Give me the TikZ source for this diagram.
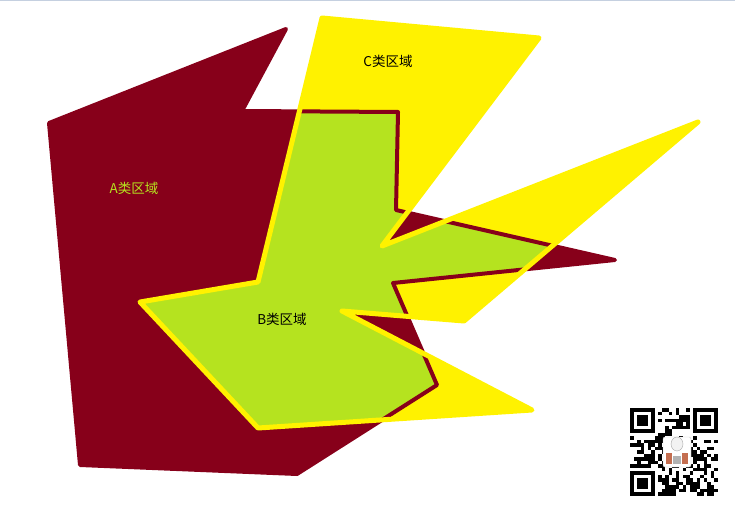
\documentclass[tikz,border=0pt]{standalone}
\usepackage{fontspec}
\newfontfamily\cjkfont{Noto Sans CJK SC}
\usetikzlibrary{positioning}
\definecolor{regionA}{RGB}{135,0,26}
\definecolor{regionB}{RGB}{181,227,31}
\definecolor{regionC}{RGB}{255,242,0}
\definecolor{frameline}{RGB}{197,208,224}
\definecolor{logobrown}{RGB}{196,110,80}
\tikzset{
	areafill/.style={fill=#1, draw=none},
	areaedge/.style={draw=#1, line join=round, line cap=round},
	arealabel/.style={font=\cjkfont\fontsize{13.5}{15}\selectfont, inner sep=0pt},
	qrmod/.style={fill=black}
}
\def\polyA{(49,123) -- (286,29) -- (242,111) -- (398,112) -- (396,210) -- (615,260) -- (393,283) -- (437,385) -- (297,474) -- (80,465) -- cycle}
\def\polyC{(322,18) -- (539,38) -- (382,246) -- (698,122) -- (464,321) -- (342,311) -- (532,410) -- (258,428) -- (140,302) -- (258,282) -- cycle}
\begin{document}
\begin{tikzpicture}[x=1pt, y=-1pt]
	\useasboundingbox (0,0) rectangle (735,513);
	
	%--------------------
	% Frame
	%--------------------
	\draw[frameline, line width=1.5pt] (0,0.75) -- (735,0.75);
	
	%--------------------
	% Areas
	%--------------------
	\fill[regionA] \polyA;
	\fill[regionC] \polyC;
	\begin{scope}
		\clip \polyA;
		\fill[regionB] \polyC;
	\end{scope}
	\draw[areaedge=regionA, line width=4pt] \polyA;
	\draw[areaedge=regionC, line width=5pt] \polyC;
	
	%--------------------
	% Labels
	%--------------------
	\node[arealabel, text=regionB] (labelA) at (134,188) {A类区域};
	\node[arealabel] (labelB) at (282,319) {B类区域};
	\node[arealabel] (labelC) at (388,61) {C类区域};
	
	%--------------------
	% QR code
	%--------------------
	\begin{scope}[shift={(630,408)}]
		\pgfmathsetseed{7}
		\foreach \i in {0,...,24}{
			\foreach \j in {0,...,24}{
				\pgfmathrandominteger{\bit}{0}{1}
				\pgfmathtruncatemacro\qrskip{(\i<8 && \j<8) || (\i>16 && \j<8) || (\i<8 && \j>16)}
				\ifnum\qrskip=0
					\ifnum\bit=1
						\fill[qrmod] (\i*3.52,\j*3.52) rectangle ++(3.52,3.52);
					\fi
				\fi
			}
		}
		\foreach \fx/\fy in {0/0, 63.36/0, 0/63.36}{
			\fill[qrmod] (\fx,\fy) rectangle ++(24.64,24.64);
			\fill[white] (\fx+3.52,\fy+3.52) rectangle ++(17.6,17.6);
			\fill[qrmod] (\fx+7.04,\fy+7.04) rectangle ++(10.56,10.56);
		}
		% logo in the middle
		\draw[gray!40, fill=white, rounded corners=2pt] (33,29) rectangle (61,59);
		\fill[logobrown] (36,45) rectangle (42,56);
		\fill[logobrown] (52,45) rectangle (58,56);
		\draw[gray!70, fill=gray!10] (47,36) ellipse (6 and 7);
		\fill[gray!60] (43,48) rectangle (51,56);
	\end{scope}
	
\end{tikzpicture}
\end{document}
